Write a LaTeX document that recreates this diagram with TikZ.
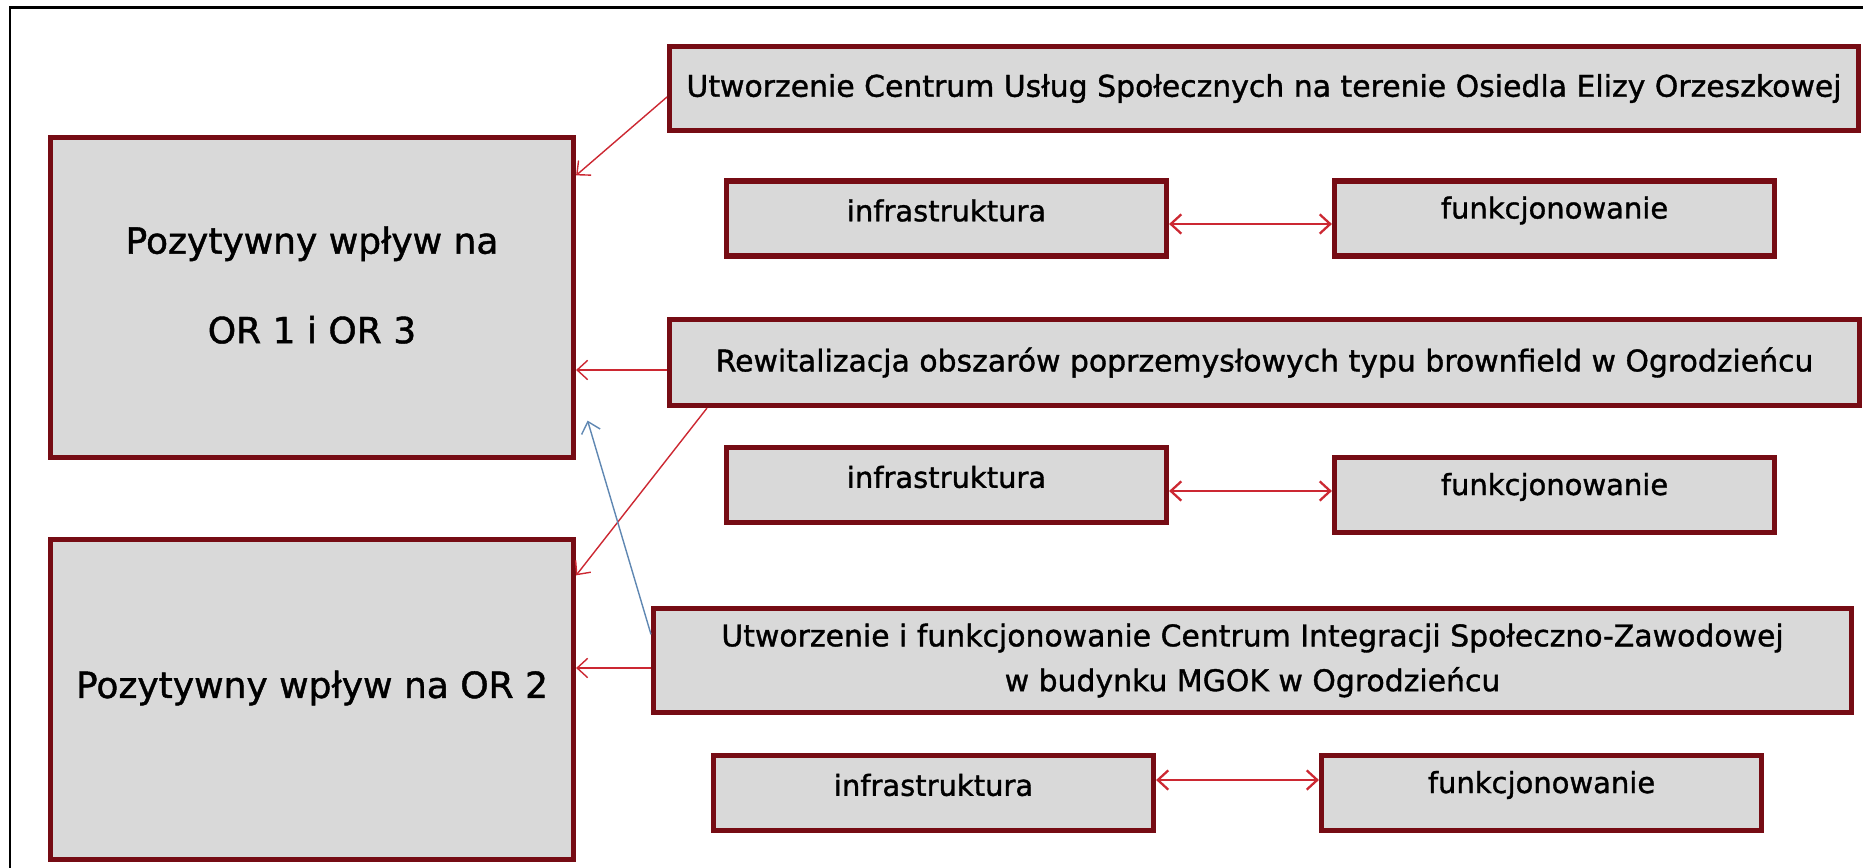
\documentclass[tikz,border=0pt]{standalone}
\usepackage{fontspec}
\setmainfont{DejaVu Sans}[FakeBold=1.2]
\usetikzlibrary{positioning,arrows.meta}
\definecolor{boxred}{RGB}{118,12,20}
\definecolor{boxfill}{RGB}{217,217,217}
\definecolor{arrred}{RGB}{204,40,50}
\definecolor{arrblue}{RGB}{95,135,178}

\begin{document}
\begin{tikzpicture}[x=0.02cm,y=-0.02cm,
bigbox/.style={draw=boxred,line width=3pt,fill=boxfill,minimum width=10.46cm,minimum height=6.4cm,inner sep=0pt},
bigtext/.style={font=\fontsize{20.5}{51}\selectfont,align=center},
taskbox/.style={draw=boxred,line width=3pt,fill=boxfill,inner sep=0pt,font=\fontsize{17}{25.5}\selectfont,align=center},
subbox/.style={draw=boxred,line width=3pt,fill=boxfill,minimum width=8.8cm,minimum height=1.5cm,inner sep=0pt},
subtext/.style={font=\fontsize{16.5}{20}\selectfont},
link/.style={draw=arrred,line width=0.8pt,-{Straight Barb[length=6pt,width=11pt]}},
twoway/.style={draw=arrred,line width=1.3pt,{Straight Barb[length=6pt,width=11pt]}-{Straight Barb[length=6pt,width=11pt]}}]
\useasboundingbox (0,0) rectangle (1863,868);
% frame
\draw [line width=1.6pt] (10,868) -- (10,7.5) -- (1863,7.5);

% left boxes
\node (or13) [bigbox] at (312,297.5) {};
\node (or13text) [bigtext] at ([yshift=0.25cm]or13.center) {Pozytywny wpływ na\\OR 1 i OR 3};
\node (or2) [bigbox] at (312,699.5) {};
\node (or2text) [bigtext] at ([yshift=0.23cm]or2.center) {Pozytywny wpływ na OR 2};

% projects
\node (taskA) [taskbox,minimum width=23.78cm,minimum height=1.68cm] at (1264,88.5)
    {Utworzenie Centrum Usług Społecznych na terenie Osiedla Elizy Orzeszkowej};
\node (infraA) [subbox] at (946.5,218.5) {};
\node (funcA) [subbox] at (1554.5,218.5) {};

\node (taskB) [taskbox,minimum width=23.8cm,minimum height=1.72cm] at (1264.5,362.5)
    {Rewitalizacja obszarów poprzemysłowych typu brownfield w Ogrodzieńcu};
\node (infraB) [subbox] at (946.5,485) {};
\node (funcB) [subbox] at (1554.5,495) {};

\node (taskC) [taskbox,minimum width=23.96cm,minimum height=2.08cm] at (1252.5,660.5)
    {Utworzenie i funkcjonowanie Centrum Integracji Społeczno-Zawodowej\\w budynku MGOK w Ogrodzieńcu};
\node (infraC) [subbox] at (933.5,793) {};
\node (funcC) [subbox] at (1541.5,793) {};

\foreach \n in {A,B,C}{
  \node (infra\n text) [subtext] at ([yshift=0.16cm]infra\n.center) {infrastruktura};
  \node (func\n text) [subtext] at ([yshift=0.16cm]func\n.center) {funkcjonowanie};
}

% connectors
\draw [link] ([yshift=-0.17cm]taskA.west) -- ([yshift=-0.81cm]or13.north east);
\draw [link] ([yshift=-0.15cm]taskB.west) coordinate (b0) -- (b0 -| or13.east);
\draw [link] ([xshift=0.8cm]taskB.south west) -- ([yshift=-0.77cm]or2.north east);
\draw [link] ([yshift=-0.15cm]taskC.west) coordinate (c0) -- (c0 -| or2.east);
\coordinate (bluetip) at ([xshift=0.23cm,yshift=0.79cm]or13.south east);
\draw [link,draw=arrblue] ([yshift=-0.57cm]taskC.north west) -- (bluetip);

\draw [twoway] ([yshift=-0.11cm]infraA.east) coordinate (a1) -- (a1 -| funcA.west);
\draw [twoway] ([yshift=-0.12cm]infraB.east) coordinate (b1) -- (b1 -| funcB.west);
\draw [twoway] ([yshift=0.26cm]infraC.east) coordinate (c1) -- (c1 -| funcC.west);
\end{tikzpicture}
\end{document}
